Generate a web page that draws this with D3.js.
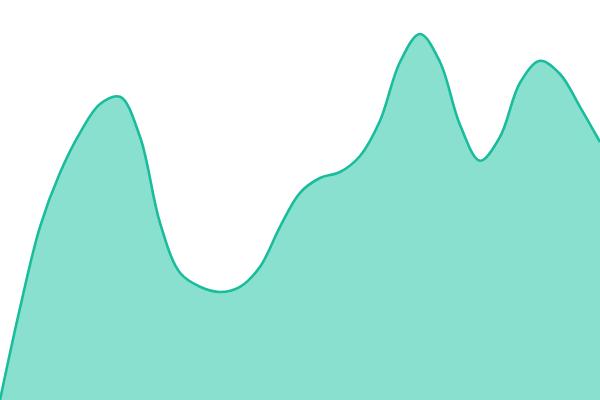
<!DOCTYPE html>
<html>
<head>
<meta charset="utf-8">
<script src="https://cdn.jsdelivr.net/npm/d3@7"></script>
<style>
  html, body { margin: 0; padding: 0; background: #fff; }
  svg { display: block; }
</style>
</head>
<body>
<svg id="chart" width="600" height="400"></svg>
<script>
// evenly spaced sample steps and their values (0..100)
const steps = [0, 1, 2, 3, 4, 5, 6, 7, 8, 9, 10, 11, 12, 13, 14, 15,
  16, 17, 18, 19, 20, 21, 22, 23, 24, 25, 26, 27, 28, 29, 30];
const values = [0, 23, 43.3, 56.8, 66.8, 74, 75.8, 65.8, 44.3, 31.8, 28.3, 27, 28.3, 33.3, 43.3, 51.8,
  55.5, 57, 61, 69.8, 84.5, 91.5, 84.5, 68.8, 59.8, 65.8, 79.3, 84.8, 81.5, 73.3, 64.5];

const width = 600, height = 400;
const svg = d3.select('#chart');

const data = steps.map((s, i) => ({ s, v: values[i] }));

const x = d3.scaleLinear().domain(d3.extent(steps)).range([0, width]);
const y = d3.scaleLinear().domain([0, 100]).range([height, 0]);

// smooth curve through the samples
const curve = d3.curveCatmullRom.alpha(0.5);

const area = d3.area()
  .curve(curve)
  .x(d => x(d.s))
  .y0(height)
  .y1(d => y(d.v));

const line = d3.line()
  .curve(curve)
  .x(d => x(d.s))
  .y(d => y(d.v));

svg.append('path')
  .datum(data)
  .attr('d', area)
  .attr('fill', '#8ae0cf');

svg.append('path')
  .datum(data)
  .attr('d', line)
  .attr('fill', 'none')
  .attr('stroke', '#1abc9c')
  .attr('stroke-width', 2.6);
</script>
</body>
</html>
